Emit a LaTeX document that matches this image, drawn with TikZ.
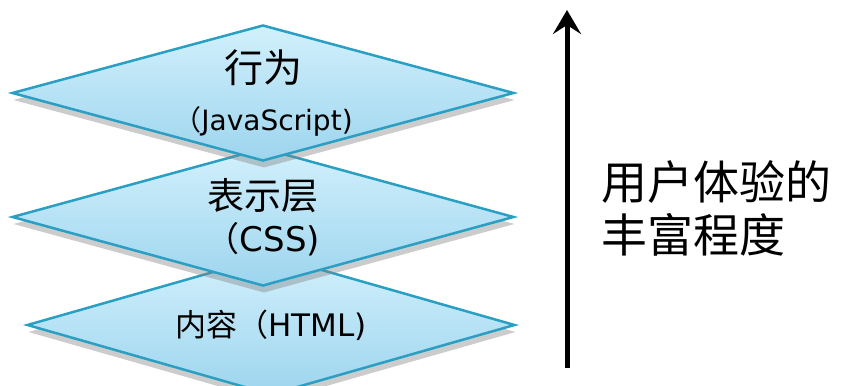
\documentclass[tikz,border=0pt]{standalone}
\usepackage{fontspec}
\setmainfont{DejaVu Sans}
\newfontfamily\cjk{Noto Sans CJK SC}
\usetikzlibrary{shapes.geometric, arrows.meta, shadows}
\definecolor{layertop}{HTML}{D2F0FC}
\definecolor{layerbot}{HTML}{9DD5EE}
\definecolor{layeredge}{HTML}{2A9FC4}

\begin{document}
\begin{tikzpicture}[x=1pt, y=1pt,
    layer/.style={diamond, draw=layeredge, line width=2.5pt, top color=layertop, bottom color=layerbot,
        inner sep=0pt, drop shadow={shadow xshift=1pt, shadow yshift=-7pt, opacity=0.4}},
    label/.style={align=center, inner sep=0pt}]
    \useasboundingbox (0,0) rectangle (842,385);
    % bottom layer first, so the upper ones cover it
    \node[layer, minimum width=488pt, minimum height=140pt] (html) at (271,60) {};
    \node[label, font=\fontsize{31}{38}\selectfont] (htmltext) at (html) {{\cjk 内容（}HTML)};
    \node[layer, minimum width=502pt, minimum height=138pt] (css) at (263,168) {};
    \node[label, font=\fontsize{37}{42}\selectfont] (csstext) at (css) {{\cjk 表示层}\\{\fontsize{34}{40}\selectfont{\cjk （}CSS)}};
    \node[layer, minimum width=502pt, minimum height=136pt] (js) at (263,292) {};
    \node[label, font=\fontsize{39}{48}\selectfont] (jstext) at (js) {{\cjk 行为}\\{\fontsize{28}{34}\selectfont{\cjk （}JavaScript)}};
    \coordinate (low) at (567,17);
    \coordinate (high) at (567,375);
    \draw[-{Stealth[length=24pt, width=28pt, inset=9pt]}, line width=5pt] (low) -- (high);
    \node[anchor=west, align=left, font=\cjk\fontsize{46}{53}\selectfont] (ux) at (598,177) {用户体验的\\丰富程度};
\end{tikzpicture}
\end{document}
